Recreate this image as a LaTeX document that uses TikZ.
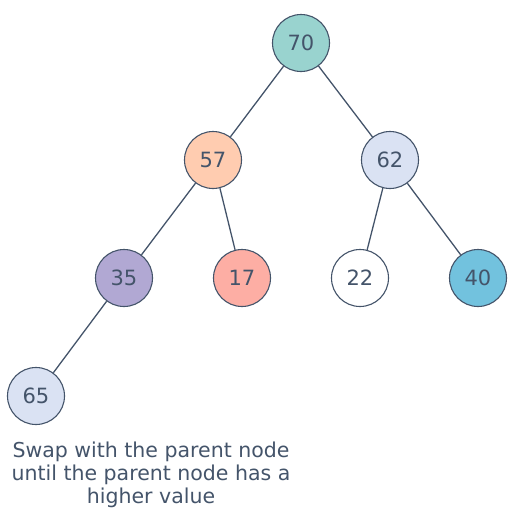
\documentclass[tikz,border=0pt]{standalone}
\usepackage{fontspec}
\setmainfont{DejaVu Sans}
\definecolor{txt}{HTML}{44546A}
\definecolor{edge}{HTML}{44546A}
\definecolor{cteal}{HTML}{99D3CF}
\definecolor{cpeach}{HTML}{FFCCB0}
\definecolor{cblue}{HTML}{DAE2F3}
\definecolor{cpurple}{HTML}{B1A8D3}
\definecolor{csalmon}{HTML}{FDAEA4}
\definecolor{csky}{HTML}{72C2DE}
\begin{document}
\begin{tikzpicture}[x=1pt,y=-1pt,
  heapnode/.style={circle,draw=edge,line width=1.1pt,minimum size=57pt,inner sep=0pt,text=txt,font=\fontsize{21}{24}\selectfont},
  link/.style={draw=edge,line width=1.3pt}]
\useasboundingbox (0,0) rectangle (523,528);
\node[heapnode,fill=cteal] (n70) at (301,43) {70};
\node[heapnode,fill=cpeach] (n57) at (213,160) {57};
\node[heapnode,fill=cblue] (n62) at (390,160) {62};
\node[heapnode,fill=cpurple] (n35) at (124,278) {35};
\node[heapnode,fill=csalmon] (n17) at (242,278) {17};
\node[heapnode,fill=white] (n22) at (360,278) {22};
\node[heapnode,fill=csky] (n40) at (478,278) {40};
\node[heapnode,fill=cblue] (n65) at (36,396) {65};
\draw[link] (n70) -- (n57);
\draw[link] (n70) -- (n62);
\draw[link] (n57) -- (n35);
\draw[link] (n57) -- (n17);
\draw[link] (n62) -- (n22);
\draw[link] (n62) -- (n40);
\draw[link] (n35) -- (n65);
\node[text=txt,align=center,font=\fontsize{20.5}{23}\selectfont] (cap) at (151,475) {Swap with the parent node\\until the parent node has a\\higher value};
\end{tikzpicture}
\end{document}
